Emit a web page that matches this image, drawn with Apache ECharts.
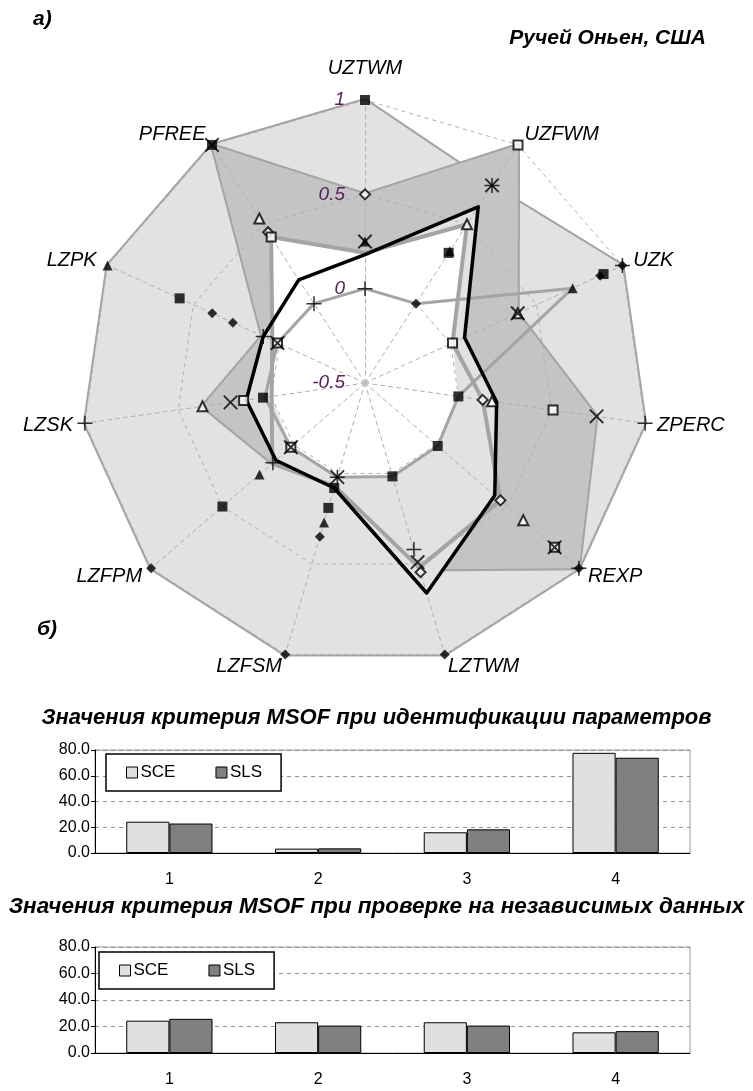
<!DOCTYPE html>
<html>
<head>
<meta charset="utf-8">
<title>MSOF</title>
<script src="https://cdn.jsdelivr.net/npm/echarts@6/dist/echarts.min.js"></script>
<style>
html, body { margin: 0; padding: 0; background: #fff; }
#chart { width: 753px; height: 1091px; }
</style>
</head>
<body>
<div id="chart"></div>
<script>
// параметры модели, по часовой стрелке от верхней оси
var params = ['UZTWM', 'UZFWM', 'UZK', 'ZPERC', 'REXP', 'LZTWM', 'LZFSM', 'LZFPM', 'LZSK', 'LZPK', 'PFREE'];
var radarTicks = [-0.5, 0, 0.5, 1];

// заливки
var outerArea = [1, 0.745, 1, 1, 1, 1, 1, 1, 1, 1, 1];
var midArea   = [0.5, 1, 0.39, 0.74, 1, 0.53, 0.07, 0.15, 0.37, 0.1, 1];
var innerArea = [0.19, 0.48, 0.01, 0.0, 0.01, 0.016, 0.02, 0.02, 0.0, 0.04, 0.42];
// линии
var blackLine = [0.18, 0.61, 0.08, 0.205, 0.41, 0.66, 0.08, 0.125, 0.136, 0.093, 0.15];
var grayLineA = [0.0, 0.0, 0.71, 0.0, 0.01, 0.016, 0.02, 0.02, 0.036, 0.01, 0.0];
var grayLineC = [0.19, 0.5, 0.01, 0.13, 0.45, 0.52, 0.07, 0.15, 0.0, 0.04, 0.42];

// маркеры (null - нет точки)
var mSquare   = [1, 0.32, 0.89, 0.0, 0.01, 0.016, 0.08, 0.5, 0.046, 0.58, 1];
var mSquare2  = [null, null, null, null, null, null, 0.19, null, null, null, null];
var mDiamond  = [null, 0.0, 1, null, 1, 1, 1, 1, null, 0.39, null];
var mDiamond2 = [null, null, 0.87, null, null, null, 0.35, null, null, 0.27, null];
var mTriangle = [0.25, 0.33, 0.71, null, null, null, 0.27, 0.24, null, 1, null];
var mPlus     = [0.0, 0.745, 1, 1, 1, 0.42, 0.02, 0.146, 1, 0.093, 0.0];
var mCross    = [0.25, 0.745, 0.39, 0.74, 0.83, 0.49, 0.02, 0.02, 0.22, 0.01, 1];
var mOpenTri  = [null, 0.5, 0.39, 0.18, 0.61, null, null, null, 0.37, null, 0.536];
var mOpenDia  = [0.5, null, null, 0.13, 0.45, 0.545, null, null, null, null, 0.45];
var mOpenSq   = [null, 1, 0.01, 0.507, 0.83, null, null, 0.02, 0.15, 0.01, 0.42];
var mCenter   = [-0.5, null, null, null, null, null, null, null, null, null, null];

// столбцы MSOF
var categories = ['1', '2', '3', '4'];
var calibSCE = [24.3, 3.4, 16.1, 77.8];
var calibSLS = [22.9, 3.6, 18.4, 74.0];
var validSCE = [24.4, 23.2, 23.2, 15.6];
var validSLS = [25.8, 20.7, 20.7, 16.5];
var barTicks = [0, 20, 40, 60, 80];

var font = 'Liberation Sans, Arial, sans-serif';
var narrow = 'Liberation Sans Narrow, Arial Narrow, Liberation Sans, Arial, sans-serif';

// радар в echarts идёт против часовой стрелки
var order = [0, 10, 9, 8, 7, 6, 5, 4, 3, 2, 1];
function toRadar(arr) {
    return order.map(function (i) { return arr[i]; });
}
function toPolar(arr) {
    var pts = [];
    arr.forEach(function (v, i) { if (v != null) pts.push([v, i]); });
    return pts;
}

var indicators = order.map(function (i) {
    var ind = { name: params[i], min: radarTicks[0], max: radarTicks[radarTicks.length - 1] };
    if (i == 0) {
        ind.nameGap = 22;
        ind.axisLabel = { show: true };
    }
    return ind;
});

function areaSeries(values, fill, border) {
    return {
        type: 'radar', z: 2, symbol: 'none', silent: true,
        data: [{ value: toRadar(values) }],
        lineStyle: border ? { color: border, width: 4 } : { width: 0, opacity: 0 },
        areaStyle: { color: fill, opacity: 1 }
    };
}
function lineSeries(values, color, width) {
    return {
        type: 'radar', z: 4, symbol: 'none', silent: true,
        data: [{ value: toRadar(values) }],
        lineStyle: { color: color, width: width }
    };
}
function markSeries(values, symbol, size, color, rotate, border) {
    return {
        type: 'scatter', coordinateSystem: 'polar', z: 5, silent: true,
        symbol: symbol, symbolSize: size, symbolRotate: rotate || 0,
        itemStyle: { color: color, borderColor: '#000', borderWidth: border || 0 },
        data: toPolar(values)
    };
}

var plusPath = 'path://M9,0h2v20h-2z M0,9h20v2h-20z';

function legendBox(left, top) {
    return {
        data: ['SCE', 'SLS'], left: left, top: top, orient: 'horizontal',
        itemGap: 40, itemWidth: 11, itemHeight: 11, icon: 'rect',
        padding: [10, 19, 10, 20], backgroundColor: '#fff', borderColor: '#000', borderWidth: 1.5,
        itemStyle: { borderColor: '#000', borderWidth: 1 },
        textStyle: { fontSize: 17, color: '#000', fontFamily: narrow, padding: [0, 0, 0, -2] }
    };
}

var myChart = echarts.init(document.getElementById('chart'));

var option = {
    backgroundColor: '#fff',
    animation: false,
    title: [
        { text: 'а)', left: 28, top: 4, textStyle: { fontSize: 21, fontStyle: 'italic', fontWeight: 'bold', fontFamily: font, color: '#000' } },
        { text: 'Ручей Оньен, США', right: 42, top: 23, textStyle: { fontSize: 21, fontStyle: 'italic', fontWeight: 'bold', fontFamily: font, color: '#000' } },
        { text: 'б)', left: 32, top: 614, textStyle: { fontSize: 21, fontStyle: 'italic', fontWeight: 'bold', fontFamily: font, color: '#000' } },
        { text: 'Значения критерия MSOF при идентификации параметров', left: 'center', top: 702, textStyle: { fontSize: 22, fontStyle: 'italic', fontWeight: 'bold', fontFamily: narrow, color: '#000' } },
        { text: 'Значения критерия MSOF при проверке на независимых данных', left: 'center', top: 890, textStyle: { fontSize: 22.5, fontStyle: 'italic', fontWeight: 'bold', fontFamily: narrow, color: '#000' } }
    ],
    radar: {
        center: [365, 383],
        radius: 283,
        startAngle: 90,
        splitNumber: radarTicks.length - 1,
        shape: 'polygon',
        z: 3,
        indicator: indicators,
        nameGap: 12,
        axisName: { color: '#000', fontStyle: 'italic', fontSize: 20, fontFamily: font },
        axisLine: { lineStyle: { color: '#b0b0b0', type: [4, 4] } },
        splitLine: { lineStyle: { color: '#b0b0b0', type: [4, 4] } },
        splitArea: { show: false },
        axisTick: { show: false },
        axisLabel: { show: false, color: '#5a1e5a', fontStyle: 'italic', fontSize: 19, fontFamily: font, margin: 20 }
    },
    polar: { center: [365, 383], radius: 283 },
    angleAxis: { type: 'value', min: 0, max: 11, startAngle: 90, clockwise: true, show: false },
    radiusAxis: { type: 'value', min: -0.5, max: 1, show: false },
    grid: [
        { left: 95, top: 750, width: 595, height: 103, show: true, borderColor: '#999', borderWidth: 1 },
        { left: 95, top: 947, width: 595, height: 106, show: true, borderColor: '#999', borderWidth: 1 }
    ],
    legend: [legendBox(106, 754), legendBox(99, 952)],
    xAxis: [0, 1].map(function (k) {
        return {
            type: 'category', gridIndex: k, data: categories,
            axisLine: { lineStyle: { color: '#000', width: 1 } },
            axisTick: { length: 5, lineStyle: { color: '#000' } },
            axisLabel: { color: '#000', fontSize: 16, margin: 19, fontFamily: narrow }
        };
    }),
    yAxis: [0, 1].map(function (k) {
        return {
            type: 'value', gridIndex: k, min: barTicks[0], max: barTicks[barTicks.length - 1], interval: 20,
            axisLine: { show: true, lineStyle: { color: '#000', width: 1 } },
            axisTick: { show: true, length: 4, lineStyle: { color: '#000' } },
            axisLabel: { color: '#000', fontSize: 16, margin: 5, fontFamily: narrow,
                formatter: function (v) { return v.toFixed(1); } },
            splitLine: { lineStyle: { color: '#909090', type: [4, 4] } }
        };
    }),
    series: [
        areaSeries(outerArea, '#e2e2e2', '#a4a4a4'),
        areaSeries(midArea, '#c4c4c4', '#a4a4a4'),
        areaSeries(blackLine, '#e2e2e2', null),
        areaSeries(innerArea, '#ffffff', null),
        lineSeries(grayLineC, '#a4a4a4', 4),
        lineSeries(grayLineA, '#a4a4a4', 3),
        lineSeries(blackLine, '#000', 3.5),

        markSeries(mCenter, 'circle', 7, '#c0c0c0'),
        markSeries(mSquare, 'rect', 10, '#000'),
        markSeries(mSquare2, 'rect', 10, '#000'),
        markSeries(mDiamond, 'diamond', 10, '#000'),
        markSeries(mDiamond2, 'diamond', 10, '#000'),
        markSeries(mTriangle, 'triangle', 10, '#000'),
        markSeries(mOpenTri, 'emptyTriangle', 10, '#000', 0, 1.2),
        markSeries(mOpenDia, 'emptyDiamond', 10, '#000', 0, 1.2),
        markSeries(mOpenSq, 'emptyRect', 9, '#000', 0, 1.2),
        markSeries(mPlus, plusPath, 15, '#000'),
        markSeries(mCross, plusPath, 19, '#000', 45),

        { type: 'bar', name: 'SCE', xAxisIndex: 0, yAxisIndex: 0, data: calibSCE, barGap: '0%', barCategoryGap: '42%',
          itemStyle: { color: '#e0e0e0', borderColor: '#000', borderWidth: 1 } },
        { type: 'bar', name: 'SLS', xAxisIndex: 0, yAxisIndex: 0, data: calibSLS, barGap: '0%', barCategoryGap: '42%',
          itemStyle: { color: '#808080', borderColor: '#000', borderWidth: 1 } },
        { type: 'bar', name: 'SCE', xAxisIndex: 1, yAxisIndex: 1, data: validSCE, barGap: '0%', barCategoryGap: '42%',
          itemStyle: { color: '#e0e0e0', borderColor: '#000', borderWidth: 1 } },
        { type: 'bar', name: 'SLS', xAxisIndex: 1, yAxisIndex: 1, data: validSLS, barGap: '0%', barCategoryGap: '42%',
          itemStyle: { color: '#808080', borderColor: '#000', borderWidth: 1 } }
    ]
};

myChart.setOption(option);
</script>
</body>
</html>
